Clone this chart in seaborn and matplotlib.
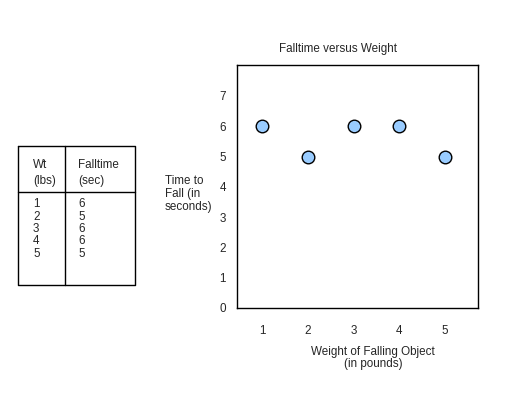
import matplotlib
matplotlib.use('Agg')
import matplotlib.pyplot as plt
import seaborn as sns
import pandas as pd

# data
weights = [1, 2, 3, 4, 5]
falltimes = [6, 5, 6, 6, 5]
y_ticks = [0, 1, 2, 3, 4, 5, 6, 7]
x_ticks = [1, 2, 3, 4, 5]
table_headers = ["Wt\n(lbs)", "Falltime\n(sec)"]

df = pd.DataFrame({"weight": weights, "falltime": falltimes})

sns.set_style("white")
plt.rcParams['font.family'] = ['Liberation Sans', 'DejaVu Sans']
FS = 8.4
plt.rcParams['font.size'] = FS

W, H = 512, 395
fig = plt.figure(figsize=(W / 100, H / 100), dpi=100)

# main scatter axes
ax = fig.add_axes([237 / W, 1 - 308 / H, 241 / W, 243 / H])
sns.scatterplot(data=df, x="weight", y="falltime", ax=ax, s=82,
                color="#99ccff", edgecolor="black", linewidth=1, zorder=3)
ax.set_xlim(0.45, 5.72)
ax.set_ylim(0, 8.02)
ax.set_xticks(x_ticks)
ax.set_yticks(y_ticks)
ax.tick_params(axis="both", length=0, labelsize=FS)
ax.tick_params(axis="x", pad=12)
ax.tick_params(axis="y", pad=8)
for s in ax.spines.values():
    s.set_visible(True)
    s.set_color("black")
    s.set_linewidth(1)
ax.set_xlabel("")
ax.set_ylabel("")

fig.text(338 / W, 1 - 49 / H, "Falltime versus Weight", ha="center", va="center", fontsize=FS)
fig.text(165 / W, 1 - 194 / H, "Time to\nFall (in\nseconds)", ha="left", va="center",
         fontsize=FS, linespacing=1.15)
fig.text(373 / W, 1 - 358 / H, "Weight of Falling Object\n(in pounds)", ha="center",
         va="center", fontsize=FS, linespacing=1.1)

# data table on the left
tab = fig.add_axes([0, 0, 1, 1])
tab.set_xlim(0, W)
tab.set_ylim(H, 0)
tab.axis("off")
tab.plot([18, 135, 135, 18, 18], [146, 146, 285, 285, 146], color="black", lw=1)
tab.plot([65, 65], [146, 285], color="black", lw=1)
tab.plot([18, 135], [192, 192], color="black", lw=1)
tab.text(33, 173, table_headers[0], ha="left", va="center", fontsize=FS, linespacing=1.35)
tab.text(78, 173, table_headers[1], ha="left", va="center", fontsize=FS, linespacing=1.35)
col_w = "\n".join(str(w) for w in weights)
col_t = "\n".join(str(t) for t in falltimes)
tab.text(33, 229, col_w, ha="left", va="center", fontsize=FS, linespacing=1.05)
tab.text(78, 229, col_t, ha="left", va="center", fontsize=FS, linespacing=1.05)

fig.savefig("out.png", dpi=100)
